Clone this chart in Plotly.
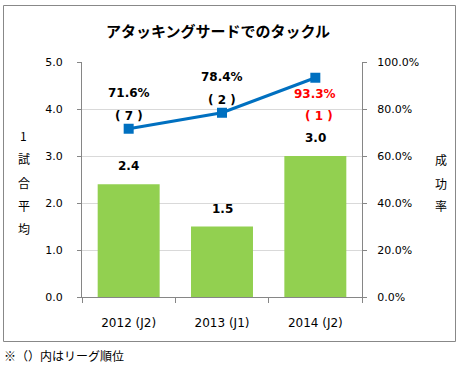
import plotly.graph_objects as go

categories = ["2012 (J2)", "2013 (J1)", "2014 (J2)"]
avg_per_game = [2.4, 1.5, 3.0]
success_rate = [0.716, 0.784, 0.933]
league_rank = ["7", "2", "1"]
left_ticks = [0, 1, 2, 3, 4, 5]
right_ticks = [0, 0.2, 0.4, 0.6, 0.8, 1.0]

BAR = "#92D050"
LINE = "#0070C0"
RED = "#FF0000"
AX = "#868686"
GRID = "#D9D9D9"
NUM_FONT = "DejaVu Sans"
JP_FONT = "Noto Sans CJK JP"

W, H = 461, 368
L, R, T, B = 82, 362, 62, 297  # plot area in pixels

def px(x):
    return (x - L) / (R - L)

def py(y):
    return (B - y) / (B - T)

fig = go.Figure()
fig.add_trace(go.Bar(x=categories, y=avg_per_game, marker=dict(color=BAR, line=dict(width=0)),
                     yaxis="y", hoverinfo="skip"))
fig.add_trace(go.Scatter(x=categories, y=success_rate, yaxis="y2", mode="lines+markers",
                         line=dict(color=LINE, width=3),
                         marker=dict(symbol="square", size=10, color=LINE),
                         hoverinfo="skip"))

ann = []
for c, v in zip(categories, avg_per_game):
    ann.append(dict(x=c, y=v, xref="x", yref="y", text=f"<b>{v:.1f}</b>", showarrow=False,
                    yshift=18, font=dict(family=NUM_FONT, size=12, color="#000000")))
for i, (c, v, r) in enumerate(zip(categories, success_rate, league_rank)):
    col = RED if r == "1" else "#000000"
    if i < 2:
        s1, s2, dx = 36, 13, 0
    else:
        s1, s2, dx = -16, -38, 4
    ann.append(dict(x=c, y=v, xref="x", yref="y2", text=f"<b>{v*100:.1f}%</b>", showarrow=False,
                    yshift=s1, font=dict(family=NUM_FONT, size=12, color=col)))
    ann.append(dict(x=c, y=v, xref="x", yref="y2", text=f"<b>( {r} )</b>", showarrow=False,
                    yshift=s2, xshift=dx, font=dict(family=NUM_FONT, size=12, color=col)))

def txt(x, y, s, size=12, xa="center"):
    return dict(x=px(x), y=py(y), xref="paper", yref="paper", text=s, showarrow=False,
                xanchor=xa, yanchor="middle", borderpad=0,
                font=dict(family=JP_FONT, size=size, color="#000000"))

ann.append(txt(218, 30, "<b>アタッキングサードでのタックル</b>", size=15))
for ch, yy in zip(["1", "試", "合", "平", "均"], [135, 158, 182, 205, 228]):
    ann.append(txt(24, yy, ch))
for ch, yy in zip(["成", "功", "率"], [159, 183, 205]):
    ann.append(txt(441, yy, ch))
ann.append(txt(3, 355, "※（）内はリーグ順位", xa="left"))

fig.update_layout(
    width=W, height=H,
    margin=dict(l=L, r=W - R, t=T, b=H - B),
    paper_bgcolor="white", plot_bgcolor="white",
    showlegend=False, bargap=0.336,
    annotations=ann,
    xaxis=dict(type="category", tickson="boundaries", ticks="outside", ticklen=5, tickcolor=AX,
               showline=True, linecolor=AX, linewidth=1, showgrid=False,
               tickfont=dict(family=NUM_FONT, size=12, color="#000000"), ticklabelstandoff=15),
    yaxis=dict(range=[0, 5], tickvals=left_ticks, ticktext=[f"{v:.1f}" for v in left_ticks],
               ticks="outside", ticklen=4, tickcolor=AX, showline=True, linecolor=AX, linewidth=1,
               showgrid=True, gridcolor=GRID, gridwidth=1, zeroline=False,
               tickfont=dict(family=NUM_FONT, size=11, color="#000000"), ticklabelstandoff=12),
    yaxis2=dict(range=[0, 1], overlaying="y", side="right", tickvals=right_ticks,
                ticktext=[f"{v*100:.1f}%" for v in right_ticks],
                ticks="outside", ticklen=4, tickcolor=AX, showline=True, linecolor=AX, linewidth=1,
                showgrid=False, zeroline=False,
                tickfont=dict(family=NUM_FONT, size=11, color="#000000"), ticklabelstandoff=8),
    shapes=[dict(type="rect", xref="paper", yref="paper", x0=px(3.5), x1=px(455.5), y0=py(341.5),
                 y1=py(5.5), line=dict(color="#888888", width=1), fillcolor="rgba(0,0,0,0)", layer="below")],
)

fig.write_html("out.html", config={"displayModeBar": False},
               post_script="document.body.style.margin='0';document.body.style.overflow='hidden';")
